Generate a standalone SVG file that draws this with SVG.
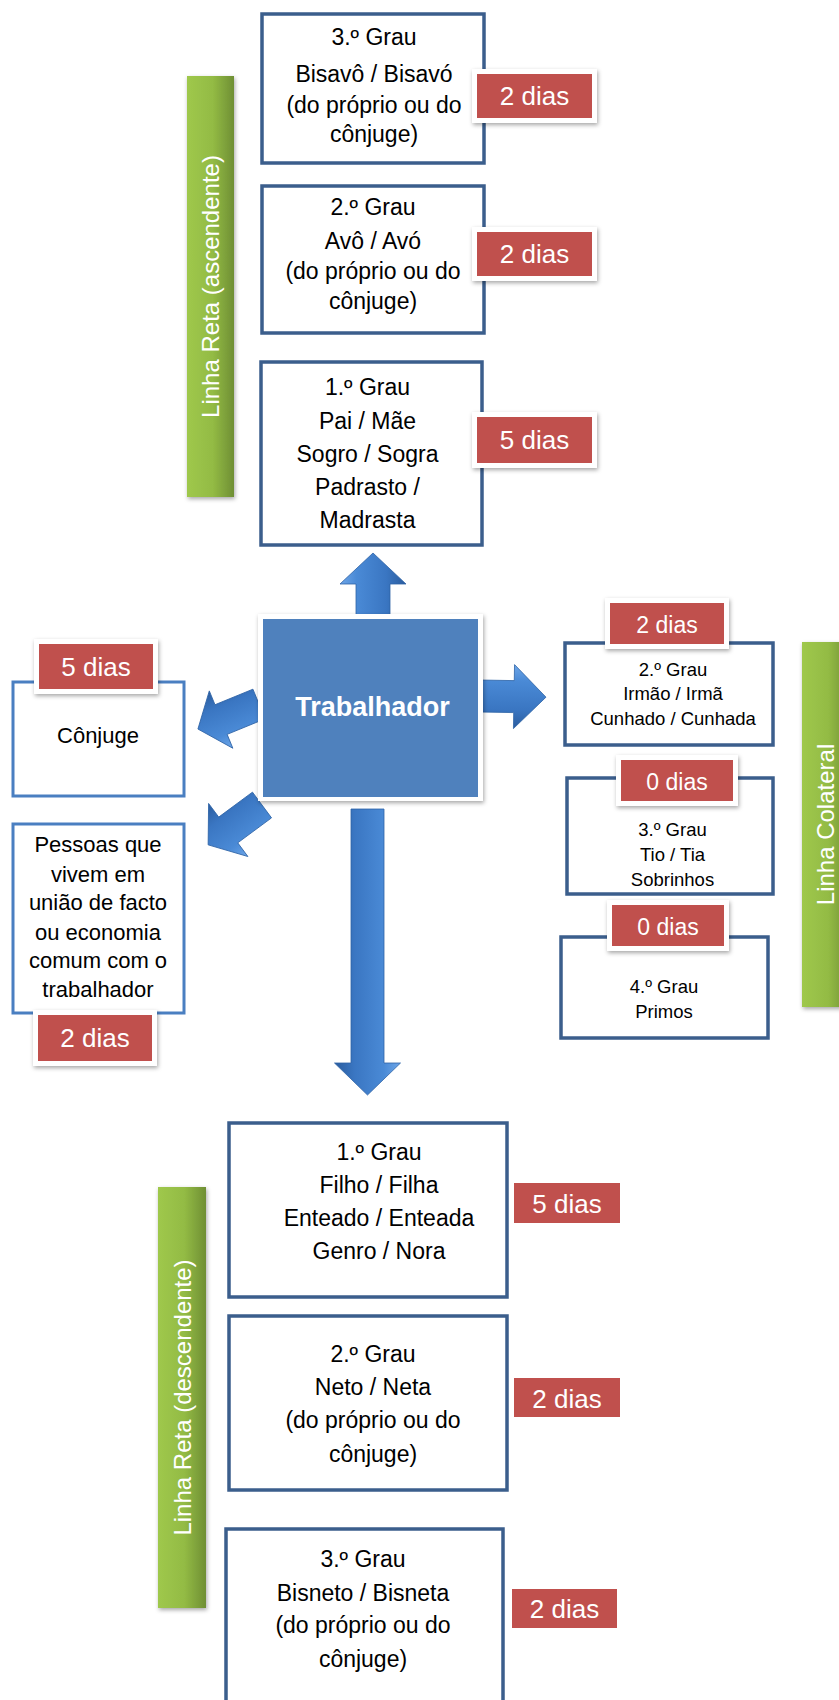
<svg xmlns="http://www.w3.org/2000/svg" width="839" height="1700" viewBox="0 0 839 1700">
<defs>
  <filter id="sh" x="-20%" y="-20%" width="140%" height="150%">
    <feDropShadow dx="1" dy="2" stdDeviation="2" flood-color="#000" flood-opacity="0.35"/>
  </filter>
  <linearGradient id="green" x1="0" y1="0" x2="1" y2="0">
    <stop offset="0" stop-color="#9fc84c"/>
    <stop offset="0.55" stop-color="#93bb44"/>
    <stop offset="1" stop-color="#6f8f34"/>
  </linearGradient>
  <linearGradient id="arrowGrad" x1="0" y1="0" x2="0" y2="1">
    <stop offset="0" stop-color="#6ea6e8"/>
    <stop offset="0.25" stop-color="#4a8ad6"/>
    <stop offset="0.7" stop-color="#3a76c2"/>
    <stop offset="1" stop-color="#2a5c9e"/>
  </linearGradient>
  <style>
    text { font-family: "Liberation Sans", Arial, sans-serif; fill: #000; text-anchor: middle; }
    .box { fill: #fff; stroke: #3b5e8c; stroke-width: 3.5; }
    .boxl { fill: #fff; stroke: #4a7fc1; stroke-width: 3; }
    .t23 { font-size: 23px; }
    .t22 { font-size: 22px; }
    .t18 { font-size: 18.5px; }
    .bw { fill: #fff; filter: url(#sh); }
    .br { fill: #c0504d; }
    .bt { fill: #fff; font-size: 26px; }
    .bt23 { fill: #fff; font-size: 23px; }
    .bar { fill: url(#green); filter: url(#sh); }
    .bartxt { fill: #fff; font-size: 24px; }
    .arrow { fill: url(#arrowGrad); stroke: #2e63a6; stroke-width: 0.8; }
  </style>
</defs>
<rect width="839" height="1700" fill="#fff"/>

<!-- Green side bars -->
<g id="bar-ascendente">
  <rect class="bar" x="187" y="76" width="47" height="421"/>
  <text class="bartxt" transform="translate(219,286.5) rotate(-90)">Linha Reta (ascendente)</text>
</g>
<g id="bar-colateral">
  <rect class="bar" x="802" y="642" width="48" height="365"/>
  <text class="bartxt" transform="translate(834,824.5) rotate(-90)">Linha Colateral</text>
</g>
<g id="bar-descendente">
  <rect class="bar" x="158" y="1187" width="48" height="421"/>
  <text class="bartxt" transform="translate(191,1397.5) rotate(-90)">Linha Reta (descendente)</text>
</g>

<!-- Connectors (block arrows) -->
<g id="connectors">
  <path class="arrow" transform="translate(373,618) rotate(-90)" d="M0,-17 L34,-17 L34,-33 L65,0 L34,33 L34,17 L0,17 Z"/>
  <path class="arrow" transform="translate(479,696) rotate(1)" d="M0,-16 L35,-16 L35,-32 L67,0 L35,32 L35,16 L0,16 Z"/>
  <path class="arrow" transform="translate(259,704) rotate(157.7)" d="M0,-16 L41,-16 L41,-31 L66,0 L41,31 L41,16 L0,16 Z"/>
  <path class="arrow" transform="translate(262,805) rotate(143.5)" d="M0,-16 L42,-16 L42,-33 L67,0 L42,33 L42,16 L0,16 Z"/>
  <path class="arrow" transform="translate(367.5,809) rotate(90)" d="M0,-16.5 L254,-16.5 L254,-33 L286,0 L254,33 L254,16.5 L0,16.5 Z"/>
</g>

<!-- Central node -->
<g id="trabalhador">
  <rect x="258" y="614" width="225" height="187" fill="#fff" filter="url(#sh)"/>
  <rect x="263" y="619" width="215" height="178" fill="#4f81bd"/>
  <text x="372.5" y="716" style="font-size:27px;font-weight:bold;fill:#fff">Trabalhador</text>
</g>

<!-- Ascendente -->
<g id="asc-3">
  <rect class="box" x="262" y="14" width="222" height="149"/>
  <text class="t23" x="374" y="45">3.º Grau</text>
  <text class="t23" x="374" y="82">Bisavô / Bisavó</text>
  <text class="t23" x="374" y="113">(do próprio ou do</text>
  <text class="t23" x="374" y="142">cônjuge)</text>
  <rect class="bw" x="472" y="69" width="125" height="54"/>
  <rect class="br" x="477" y="74" width="115" height="44"/>
  <text class="bt" x="534.5" y="105">2 dias</text>
</g>
<g id="asc-2">
  <rect class="box" x="262" y="186" width="222" height="147"/>
  <text class="t23" x="373" y="215">2.º Grau</text>
  <text class="t23" x="373" y="249">Avô / Avó</text>
  <text class="t23" x="373" y="279">(do próprio ou do</text>
  <text class="t23" x="373" y="309">cônjuge)</text>
  <rect class="bw" x="472" y="227" width="125" height="54"/>
  <rect class="br" x="477" y="232" width="115" height="44"/>
  <text class="bt" x="534.5" y="263">2 dias</text>
</g>
<g id="asc-1">
  <rect class="box" x="261" y="362" width="221" height="183"/>
  <text class="t23" x="367.5" y="395">1.º Grau</text>
  <text class="t23" x="367.5" y="429">Pai / Mãe</text>
  <text class="t23" x="367.5" y="462">Sogro / Sogra</text>
  <text class="t23" x="367.5" y="495">Padrasto /</text>
  <text class="t23" x="367.5" y="528">Madrasta</text>
  <rect class="bw" x="472" y="412" width="125" height="56"/>
  <rect class="br" x="477" y="417" width="115" height="46"/>
  <text class="bt" x="534.5" y="449">5 dias</text>
</g>

<!-- Left side -->
<g id="conjuge">
  <rect class="boxl" x="13" y="682" width="171" height="114"/>
  <text class="t22" x="98" y="743">Cônjuge</text>
  <rect class="bw" x="34" y="639" width="124" height="55"/>
  <rect class="br" x="39" y="644" width="114" height="45"/>
  <text class="bt" x="96" y="676">5 dias</text>
</g>
<g id="uniao-facto">
  <rect class="boxl" x="13" y="824" width="171" height="189"/>
  <text class="t22" x="98" y="852">Pessoas que</text>
  <text class="t22" x="98" y="882">vivem em</text>
  <text class="t22" x="98" y="910">união de facto</text>
  <text class="t22" x="98" y="940">ou economia</text>
  <text class="t22" x="98" y="968">comum com o</text>
  <text class="t22" x="98" y="997">trabalhador</text>
  <rect class="bw" x="33" y="1010" width="124" height="56"/>
  <rect class="br" x="38" y="1015" width="114" height="46"/>
  <text class="bt" x="95" y="1047">2 dias</text>
</g>

<!-- Colateral -->
<g id="col-2">
  <rect class="box" x="565" y="643" width="208" height="102"/>
  <text class="t18" x="673" y="676">2.º Grau</text>
  <text class="t18" x="673" y="700">Irmão / Irmã</text>
  <text class="t18" x="673" y="725">Cunhado / Cunhada</text>
  <rect class="bw" x="605" y="598" width="124" height="51"/>
  <rect class="br" x="610" y="603" width="114" height="41"/>
  <text class="bt23" x="667" y="633">2 dias</text>
</g>
<g id="col-3">
  <rect class="box" x="567" y="778" width="206" height="116"/>
  <text class="t18" x="672.5" y="836">3.º Grau</text>
  <text class="t18" x="672.5" y="861">Tio / Tia</text>
  <text class="t18" x="672.5" y="886">Sobrinhos</text>
  <rect class="bw" x="616" y="755" width="122" height="51"/>
  <rect class="br" x="621" y="760" width="112" height="41"/>
  <text class="bt23" x="677" y="790">0 dias</text>
</g>
<g id="col-4">
  <rect class="box" x="561" y="937" width="207" height="101"/>
  <text class="t18" x="664" y="993">4.º Grau</text>
  <text class="t18" x="664" y="1018">Primos</text>
  <rect class="bw" x="607" y="900" width="122" height="51"/>
  <rect class="br" x="612" y="905" width="112" height="41"/>
  <text class="bt23" x="668" y="935">0 dias</text>
</g>

<!-- Descendente -->
<g id="desc-1">
  <rect class="box" x="229" y="1123" width="278" height="174"/>
  <text class="t23" x="379" y="1160">1.º Grau</text>
  <text class="t23" x="379" y="1193">Filho / Filha</text>
  <text class="t23" x="379" y="1226">Enteado / Enteada</text>
  <text class="t23" x="379" y="1259">Genro / Nora</text>
  <rect class="br" x="514" y="1183" width="106" height="40"/>
  <text class="bt" x="567" y="1213">5 dias</text>
</g>
<g id="desc-2">
  <rect class="box" x="229" y="1316" width="278" height="174"/>
  <text class="t23" x="373" y="1362">2.º Grau</text>
  <text class="t23" x="373" y="1395">Neto / Neta</text>
  <text class="t23" x="373" y="1428">(do próprio ou do</text>
  <text class="t23" x="373" y="1462">cônjuge)</text>
  <rect class="br" x="514" y="1378" width="106" height="39"/>
  <text class="bt" x="567" y="1408">2 dias</text>
</g>
<g id="desc-3">
  <rect class="box" x="226" y="1529" width="277" height="190"/>
  <text class="t23" x="363" y="1567">3.º Grau</text>
  <text class="t23" x="363" y="1601">Bisneto / Bisneta</text>
  <text class="t23" x="363" y="1633">(do próprio ou do</text>
  <text class="t23" x="363" y="1667">cônjuge)</text>
  <rect class="br" x="512" y="1589" width="105" height="39"/>
  <text class="bt" x="564.5" y="1618">2 dias</text>
</g>
</svg>
